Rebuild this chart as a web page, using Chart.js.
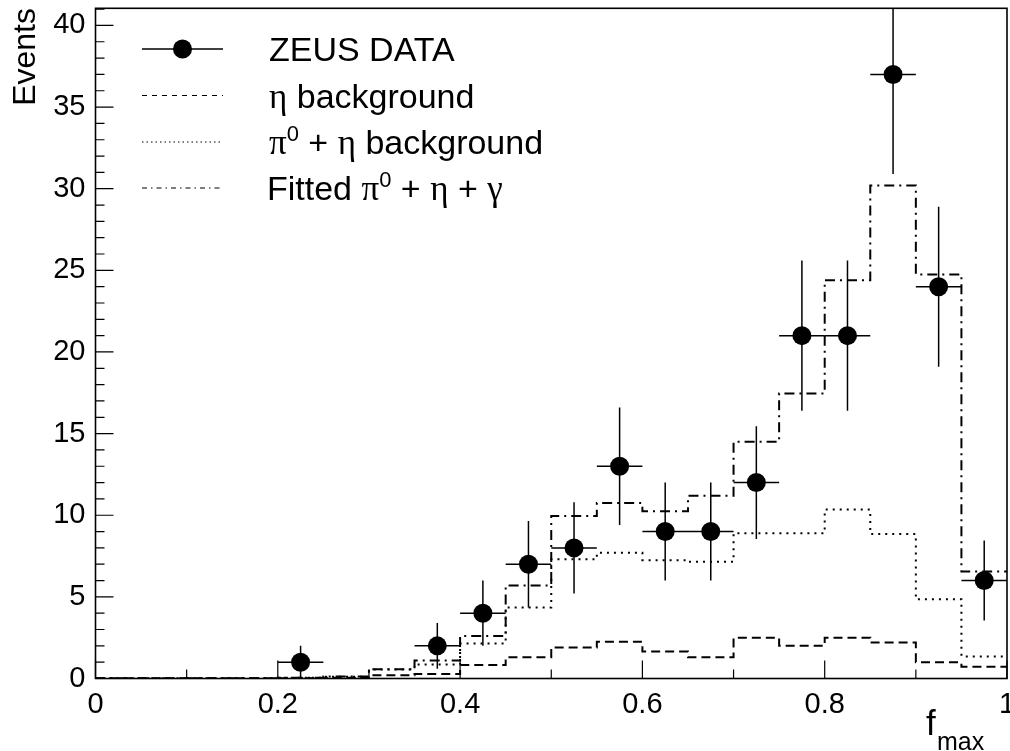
<!DOCTYPE html>
<html>
<head>
<meta charset="utf-8">
<script src="https://cdn.jsdelivr.net/npm/chart.js@4.4.1/dist/chart.umd.min.js"></script>
<style>
  html, body { margin: 0; padding: 0; background: #fff; }
  #wrap { width: 1010px; height: 751px; position: relative; }
</style>
</head>
<body>
<div id="wrap"><canvas id="fmax"></canvas></div>
<script>
// f_max bin edges (20 bins of 0.05)
const binEdges = [0, 0.05, 0.1, 0.15, 0.2, 0.25, 0.3, 0.35, 0.4, 0.45, 0.5,
                  0.55, 0.6, 0.65, 0.7, 0.75, 0.8, 0.85, 0.9, 0.95, 1.0];

// histogram contents per bin
const etaBkg    = [0.01, 0.01, 0.01, 0.01, 0.02, 0.05, 0.2, 0.27, 0.82, 1.3,
                   1.9, 2.25, 1.65, 1.3, 2.5, 2.0, 2.5, 2.2, 1.0, 0.72];
const pi0EtaBkg = [0.01, 0.01, 0.01, 0.02, 0.05, 0.1, 0.55, 0.86, 2.15, 4.35,
                   7.3, 7.7, 7.25, 7.15, 8.9, 8.9, 10.35, 8.85, 4.85, 1.35];
const fitted    = [0.01, 0.01, 0.01, 0.02, 0.05, 0.12, 0.57, 1.1, 2.6, 5.7,
                   9.95, 10.75, 10.25, 11.2, 14.5, 17.45, 24.4, 30.2, 24.75, 6.55];

// ZEUS data points
const dataX   = [0.225, 0.375, 0.425, 0.475, 0.525, 0.575, 0.625, 0.675, 0.725, 0.775, 0.825, 0.875, 0.925, 0.975];
const dataY   = [1, 2, 4, 7, 8, 13, 9, 9, 12, 21, 21, 37, 24, 6];
const dataErr = [1.0, 1.4, 2.0, 2.65, 2.8, 3.6, 3.0, 3.0, 3.45, 4.6, 4.6, 6.1, 4.9, 2.45];
const halfBin = 0.025;

const sans = "'Liberation Sans', Arial, sans-serif";
const serif = "'Liberation Serif', 'DejaVu Serif', serif";

function histPoints(vals) {
  return binEdges.map(function(x, i) {
    return { x: x, y: vals[Math.min(i, vals.length - 1)] };
  });
}

const points = dataX.map(function(x, i) { return { x: x, y: dataY[i] }; });

const dashStyle = [9, 5];
const dotStyle = [2, 5];
const dashDotStyle = [10, 5, 2, 5];

// error bars, drawn under the markers
const errorBars = {
  id: 'errorBars',
  beforeDatasetsDraw(chart) {
    const ctx = chart.ctx, xs = chart.scales.x, ys = chart.scales.y, a = chart.chartArea;
    ctx.save();
    ctx.beginPath();
    ctx.rect(a.left, a.top, a.right - a.left, a.bottom - a.top);
    ctx.clip();
    ctx.strokeStyle = '#000';
    ctx.lineWidth = 1.5;
    dataX.forEach(function(x, i) {
      const px = xs.getPixelForValue(x), py = ys.getPixelForValue(dataY[i]);
      ctx.beginPath();
      ctx.moveTo(px, ys.getPixelForValue(dataY[i] - dataErr[i]));
      ctx.lineTo(px, ys.getPixelForValue(dataY[i] + dataErr[i]));
      ctx.moveTo(xs.getPixelForValue(x - halfBin), py);
      ctx.lineTo(xs.getPixelForValue(x + halfBin), py);
      ctx.stroke();
    });
    ctx.restore();
  }
};

// ROOT style frame with inward ticks, axis titles and legend
function drawRich(ctx, x, y, parts) {
  parts.forEach(function(p) {
    ctx.font = p.font;
    ctx.fillText(p.t, x, y + (p.dy || 0));
    x += ctx.measureText(p.t).width;
  });
}

const frameAndLegend = {
  id: 'frameAndLegend',
  afterDraw(chart) {
    const ctx = chart.ctx, xs = chart.scales.x, ys = chart.scales.y, a = chart.chartArea;
    ctx.save();
    ctx.strokeStyle = '#000';
    ctx.lineWidth = 1.6;
    ctx.setLineDash([]);
    ctx.strokeRect(a.left, a.top, a.right - a.left, a.bottom - a.top);

    ctx.lineWidth = 1.2;
    ctx.beginPath();
    for (let k = 0; k <= 10; k++) {
      const px = xs.getPixelForValue(k / 10);
      const len = (k % 2 === 0) ? 18 : 9;
      ctx.moveTo(px, a.bottom);
      ctx.lineTo(px, a.bottom - len);
    }
    for (let v = 0; v <= 41; v++) {
      const py = ys.getPixelForValue(v);
      const len = (v % 5 === 0) ? 18 : 9;
      ctx.moveTo(a.left, py);
      ctx.lineTo(a.left + len, py);
    }
    ctx.stroke();

    // axis titles
    ctx.fillStyle = '#000';
    ctx.textBaseline = 'alphabetic';
    ctx.save();
    ctx.translate(35, 8);
    ctx.rotate(-Math.PI / 2);
    ctx.textAlign = 'right';
    ctx.font = '32px ' + sans;
    ctx.fillText('Events', 0, 0);
    ctx.restore();
    ctx.textAlign = 'left';
    ctx.font = '35px ' + sans;
    ctx.fillText('f', 926, 735);
    ctx.font = '25px ' + sans;
    ctx.fillText('max', 937, 750);

    // legend
    const rows = [49, 95.5, 142, 188];
    const x0 = 142, x1 = 223, tx = 269;
    ctx.lineWidth = 1.3;
    ctx.beginPath();
    ctx.moveTo(x0, rows[0]); ctx.lineTo(x1, rows[0]);
    ctx.stroke();
    ctx.beginPath();
    ctx.arc((x0 + x1) / 2, rows[0], 9.5, 0, 2 * Math.PI);
    ctx.fill();
    ctx.lineWidth = 1.2;
    [[5, 5], [1.5, 3], [5, 4, 1.5, 4]].forEach(function(d, i) {
      ctx.setLineDash(d);
      ctx.beginPath();
      ctx.moveTo(x0, rows[i + 1]); ctx.lineTo(x1, rows[i + 1]);
      ctx.stroke();
    });
    ctx.setLineDash([]);

    const big = '34px ' + sans, grk = '35px ' + serif, sup = '22px ' + sans;
    drawRich(ctx, tx, rows[0] + 12, [{ t: 'ZEUS DATA', font: big }]);
    drawRich(ctx, tx, rows[1] + 12, [{ t: 'η', font: grk }, { t: ' background', font: big }]);
    drawRich(ctx, tx, rows[2] + 12, [{ t: 'π', font: grk }, { t: '0', font: sup, dy: -13 },
      { t: ' + ', font: big }, { t: 'η', font: grk }, { t: ' background', font: big }]);
    drawRich(ctx, tx - 2, rows[3] + 12, [{ t: 'Fitted ', font: big }, { t: 'π', font: grk },
      { t: '0', font: sup, dy: -13 }, { t: ' + ', font: big }, { t: 'η', font: grk },
      { t: ' + ', font: big }, { t: 'γ', font: grk }]);
    ctx.restore();
  }
};

const fmaxData = {
  datasets: [
    {
      label: 'ZEUS DATA',
      data: points,
      showLine: false,
      pointRadius: 9.5,
      pointHoverRadius: 9.5,
      pointBackgroundColor: '#000',
      pointBorderColor: '#000',
      pointBorderWidth: 0,
    },
    {
      label: 'η background',
      data: histPoints(etaBkg),
      stepped: true,
      borderColor: '#000',
      borderWidth: 2,
      borderDash: dashStyle,
      pointRadius: 0,
      fill: false,
    },
    {
      label: 'π0 + η background',
      data: histPoints(pi0EtaBkg),
      stepped: true,
      borderColor: '#000',
      borderWidth: 2,
      borderDash: dotStyle,
      pointRadius: 0,
      fill: false,
    },
    {
      label: 'Fitted π0 + η + γ',
      data: histPoints(fitted),
      stepped: true,
      borderColor: '#000',
      borderWidth: 2,
      borderDash: dashDotStyle,
      pointRadius: 0,
      fill: false,
    }
  ]
};

const fmaxConfig = {
  type: 'line',
  data: fmaxData,
  options: {
    responsive: true,
    maintainAspectRatio: false,
    animation: false,
    events: [],
    layout: {
      autoPadding: false, // markers must not shrink the frame
      padding: { top: 8.3, right: 3, left: 0, bottom: 0 }
    },
    plugins: {
      legend: { display: false },
      tooltip: { enabled: false },
      title: { display: false }
    },
    scales: {
      x: {
        type: 'linear',
        min: 0,
        max: 1,
        grid: { display: false, drawTicks: false },
        border: { display: false },
        ticks: {
          stepSize: 0.2,
          autoSkip: false,
          maxRotation: 0,
          padding: 9,
          color: '#000',
          font: { family: sans, size: 29 },
          callback: function(v) { return String(Math.round(v * 10) / 10); }
        },
        afterFit: function(s) { s.height = 72.5; s.paddingLeft = 0; s.paddingRight = 0; }
      },
      y: {
        type: 'linear',
        min: 0,
        max: 41.05,
        grid: { display: false, drawTicks: false },
        border: { display: false },
        ticks: {
          stepSize: 5,
          includeBounds: false,
          padding: 10,
          color: '#000',
          font: { family: sans, size: 29 }
        },
        afterFit: function(s) { s.width = 95.5; s.paddingTop = 0; s.paddingBottom = 0; }
      }
    }
  },
  plugins: [errorBars, frameAndLegend]
};

new Chart(document.getElementById('fmax'), fmaxConfig);
</script>
</body>
</html>
